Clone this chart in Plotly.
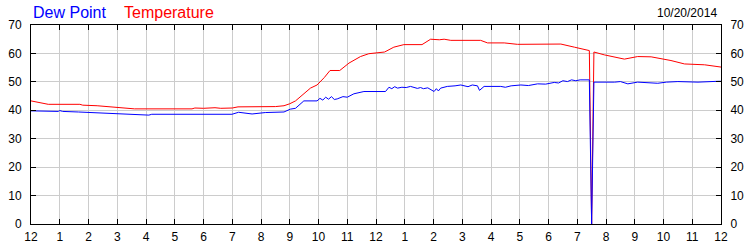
import plotly.graph_objects as go

# ---- data ----
temp_t = [0.0, 0.3, 0.6, 1.7, 1.8, 2.3, 2.6, 2.9, 3.3, 3.6, 5.6, 5.7, 6.0, 6.4, 6.6, 7.0, 7.2,
          8.5, 8.8, 9.0, 9.2, 9.49, 9.72, 9.95, 10.2, 10.4, 10.74, 11.06, 11.46, 11.75, 12.0,
          12.3, 12.62, 12.97, 13.6, 13.79, 13.9, 14.2, 14.37, 14.6, 15.64, 15.88, 16.46, 16.92,
          17.62, 18.43, 18.9, 19.36, 19.42, 19.5, 19.58, 19.94, 20.64, 21.1, 21.57, 22.26,
          22.73, 23.43, 23.9, 24.0]
temp_v = [43.3, 42.6, 42.1, 42.1, 41.8, 41.6, 41.4, 41.2, 40.9, 40.5, 40.5, 40.8, 40.7, 40.9,
          40.7, 40.8, 41.2, 41.3, 41.6, 42.3, 43.3, 46.0, 47.8, 48.9, 51.5, 54.0, 54.0, 56.6,
          58.9, 59.9, 60.2, 60.5, 62.2, 63.1, 63.1, 64.5, 65.0, 64.8, 65.0, 64.6, 64.6, 63.7,
          63.7, 63.2, 63.3, 63.3, 62.2, 61.0, 61.0, 0.0, 60.5, 59.5, 58.0, 58.9, 58.8, 57.5,
          56.3, 56.0, 55.2, 55.2]

dew_t = [0.0, 0.5, 0.95, 1.0, 1.1, 1.65, 2.46, 3.16, 3.8, 4.1, 4.2, 4.44, 6.99, 7.22, 7.5,
         7.69, 8.15, 8.8, 9.02, 9.2, 9.49, 9.95, 10.05, 10.15, 10.25, 10.35, 10.45, 10.55,
         10.65, 10.85, 11.0, 11.23, 11.58, 12.33, 12.45, 12.55, 12.65, 12.75, 12.9, 13.05,
         13.2, 13.35, 13.44, 13.55, 13.65, 13.8, 13.9, 14.02, 14.1, 14.17, 14.25, 14.48,
         14.75, 14.95, 15.2, 15.35, 15.53, 15.6, 15.76, 16.34, 16.5, 16.7, 17.04, 17.3,
         17.62, 17.9, 18.2, 18.35, 18.5, 18.66, 18.8, 18.95, 19.1, 19.42, 19.5, 19.58,
         20.3, 20.5, 20.76, 21.1, 21.8, 22.1, 22.5, 23.2, 23.9, 24.0]
dew_v = [39.8, 39.6, 39.6, 39.9, 39.6, 39.4, 39.0, 38.6, 38.3, 38.3, 38.6, 38.6, 38.6, 39.3,
         38.9, 38.7, 39.2, 39.4, 40.4, 40.7, 43.3, 43.3, 44.2, 43.6, 44.6, 43.9, 44.8, 43.8,
         44.0, 44.8, 44.6, 45.8, 46.6, 46.6, 48.1, 47.6, 48.3, 47.8, 48.1, 48.0, 48.4, 47.9,
         47.7, 48.0, 47.6, 47.9, 47.2, 46.6, 47.6, 46.8, 47.8, 48.4, 48.6, 48.9, 48.3, 48.9,
         48.6, 47.0, 48.4, 48.4, 48.1, 48.6, 48.9, 48.7, 49.3, 49.2, 49.8, 49.6, 50.4, 50.1,
         50.7, 50.4, 50.7, 50.7, 0.0, 49.9, 49.9, 50.1, 49.3, 49.9, 49.5, 49.9, 50.1, 49.9,
         50.2, 50.2]

hour_vals = list(range(25))
hour_text = ["12", "1", "2", "3", "4", "5", "6", "7", "8", "9", "10", "11",
             "12", "1", "2", "3", "4", "5", "6", "7", "8", "9", "10", "11", "12"]
y_vals = [0, 10, 20, 30, 40, 50, 60, 70]

FONT = "Liberation Sans, Arial, sans-serif"

fig = go.Figure()
fig.add_trace(go.Scatter(x=temp_t, y=temp_v, mode="lines",
                         line=dict(color="#ff0000", width=1), hoverinfo="skip"))
fig.add_trace(go.Scatter(x=dew_t, y=dew_v, mode="lines",
                         line=dict(color="#0000ff", width=1), hoverinfo="skip"))
# helper trace for right axis
fig.add_trace(go.Scatter(x=[0], y=[0], yaxis="y2", mode="lines",
                         line=dict(width=0), hoverinfo="skip", showlegend=False))

L, R, T, B = 31, 29, 25, 26
W, H = 750, 250
pw, ph = W - L - R, H - T - B

fig.update_layout(
    width=W, height=H,
    margin=dict(l=L, r=R, t=T, b=B, pad=0, autoexpand=False),
    paper_bgcolor="white", plot_bgcolor="white",
    showlegend=False,
    font=dict(family=FONT, size=12, color="#000000"),
    xaxis=dict(range=[0, 24], tickvals=hour_vals, ticktext=hour_text,
               showgrid=True, gridcolor="#cccccc", gridwidth=1,
               showline=True, linecolor="#000000", linewidth=1, mirror="ticks",
               ticks="inside", ticklen=5, tickcolor="#000000",
               ticklabelstandoff=2, zeroline=False, automargin=False,
               tickfont=dict(family=FONT, size=12, color="#000000")),
    yaxis=dict(range=[0, 70], tickvals=y_vals,
               showgrid=True, gridcolor="#cccccc", gridwidth=1,
               showline=True, linecolor="#000000", linewidth=1, mirror=True,
               ticks="inside", ticklen=5, tickcolor="#000000",
               ticklabelstandoff=6, zeroline=False, automargin=False,
               tickfont=dict(family=FONT, size=12, color="#000000")),
    yaxis2=dict(range=[0, 70], tickvals=y_vals, overlaying="y", side="right",
                showgrid=False, showline=True, linecolor="#000000", linewidth=1,
                ticks="inside", ticklen=5, tickcolor="#000000",
                ticklabelstandoff=6, zeroline=False, automargin=False,
                tickfont=dict(family=FONT, size=12, color="#000000")),
)

def px_to_paper(x, y):
    return (x - L) / pw, (H - B - y) / ph

ax, ay = px_to_paper(32, 12)
fig.add_annotation(x=ax, y=ay, xref="paper", yref="paper", xanchor="left", yanchor="middle",
                   text="Dew Point", showarrow=False, borderpad=0,
                   font=dict(family=FONT, size=16, color="#0000ff"))
ax, ay = px_to_paper(123, 12)
fig.add_annotation(x=ax, y=ay, xref="paper", yref="paper", xanchor="left", yanchor="middle",
                   text="Temperature", showarrow=False, borderpad=0,
                   font=dict(family=FONT, size=16, color="#ff0000"))
ax, ay = px_to_paper(718, 12.5)
fig.add_annotation(x=ax, y=ay, xref="paper", yref="paper", xanchor="right", yanchor="middle",
                   text="10/20/2014", showarrow=False, borderpad=0,
                   font=dict(family=FONT, size=12, color="#000000"))

fig.write_html("out.html")
